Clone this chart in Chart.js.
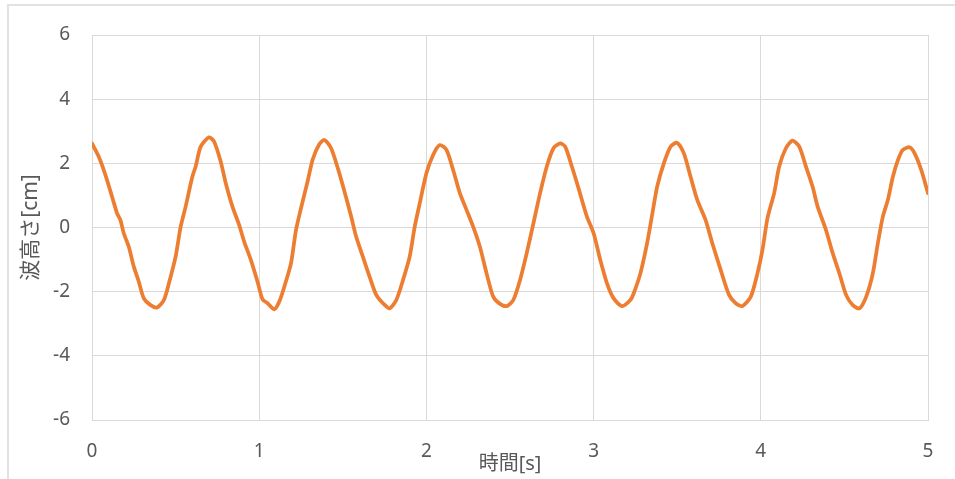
<!DOCTYPE html>
<html>
<head>
<meta charset="utf-8">
<script src="https://cdn.jsdelivr.net/npm/chart.js@4"></script>
<style>
  body { margin: 0; background: #fff; }
  #marco {
    position: absolute; left: 7px; top: 4px; width: 970px; height: 500px;
    border: 2px solid #e2e2e2; background: #fff;
  }
  #grafica { position: absolute; left: 0; top: 0; }
</style>
</head>
<body>
<div id="marco"></div>
<canvas id="grafica" width="955" height="479"></canvas>
<script>
// tiempo [s] y altura de la ola [cm]
const tiempos = [0.00, 0.04, 0.08, 0.12, 0.15, 0.17, 0.19, 0.22, 0.25, 0.28, 0.31, 0.35, 0.39, 0.43, 0.46, 0.50,
  0.53, 0.56, 0.60, 0.62, 0.65, 0.70, 0.73, 0.77, 0.80, 0.84, 0.88, 0.91, 0.95, 0.99, 1.02, 1.05,
  1.09, 1.12, 1.15, 1.19, 1.22, 1.25, 1.29, 1.32, 1.36, 1.39, 1.43, 1.47, 1.51, 1.55, 1.58, 1.62,
  1.66, 1.70, 1.74, 1.78, 1.82, 1.86, 1.90, 1.93, 1.96, 2.00, 2.04, 2.08, 2.12, 2.16, 2.20, 2.24,
  2.28, 2.32, 2.36, 2.40, 2.44, 2.48, 2.52, 2.56, 2.60, 2.64, 2.68, 2.72, 2.76, 2.80, 2.83, 2.87,
  2.91, 2.96, 3.00, 3.04, 3.08, 3.12, 3.17, 3.22, 3.24, 3.28, 3.32, 3.35, 3.38, 3.42, 3.46, 3.50,
  3.54, 3.58, 3.62, 3.67, 3.71, 3.76, 3.81, 3.85, 3.89, 3.94, 3.98, 4.01, 4.04, 4.08, 4.11, 4.15,
  4.19, 4.23, 4.27, 4.31, 4.34, 4.39, 4.43, 4.47, 4.51, 4.55, 4.59, 4.63, 4.67, 4.70, 4.73, 4.76,
  4.79, 4.82, 4.85, 4.89, 4.92, 4.96, 5.00];
const alturas = [2.62, 2.21, 1.64, 0.96, 0.44, 0.23, -0.18, -0.60, -1.22, -1.69, -2.21, -2.42, -2.49, -2.26, -1.74, -0.91,
  0.02, 0.65, 1.58, 1.90, 2.52, 2.81, 2.68, 2.05, 1.38, 0.65, 0.08, -0.44, -1.01, -1.69, -2.24, -2.36,
  -2.55, -2.31, -1.85, -1.12, -0.08, 0.60, 1.45, 2.12, 2.60, 2.73, 2.47, 1.85, 1.12, 0.34, -0.29, -0.91,
  -1.53, -2.10, -2.36, -2.52, -2.26, -1.64, -0.91, 0.02, 0.75, 1.69, 2.26, 2.57, 2.42, 1.79, 1.07, 0.55,
  0.02, -0.60, -1.43, -2.16, -2.38, -2.45, -2.26, -1.64, -0.80, 0.13, 1.07, 1.90, 2.47, 2.62, 2.52, 1.90,
  1.22, 0.34, -0.18, -1.01, -1.74, -2.21, -2.45, -2.26, -2.05, -1.43, -0.49, 0.39, 1.27, 2.00, 2.52, 2.64,
  2.31, 1.58, 0.86, 0.23, -0.49, -1.32, -2.10, -2.36, -2.45, -2.16, -1.43, -0.70, 0.29, 1.07, 1.90, 2.47,
  2.71, 2.52, 1.90, 1.27, 0.65, -0.08, -0.80, -1.43, -2.10, -2.42, -2.52, -2.16, -1.43, -0.49, 0.34, 0.86,
  1.58, 2.10, 2.42, 2.50, 2.31, 1.79, 1.07];

const ticksX = [0, 1, 2, 3, 4, 5];
const ticksY = [-6, -4, -2, 0, 2, 4, 6];

const tituloX = '時間[s]';
const tituloY = '波高さ[cm]';

let puntos = tiempos.map((t, i) => ({ x: t, y: alturas[i] }));

const fuente = '"Noto Sans", "Noto Sans CJK JP", sans-serif';
const gris = '#d9d9d9';
const texto = '#595959';

var ctx = document.getElementById('grafica').getContext('2d');
window.grafica = new Chart(ctx, {
  type: 'line',
  data: {
    datasets: [{
      data: puntos,
      borderColor: '#ed7d31',
      borderWidth: 3.75,
      borderCapStyle: 'round',
      borderJoinStyle: 'round',
      pointRadius: 0,
      tension: 0.25,
      fill: false
    }]
  },
  options: {
    responsive: false,
    animation: false,
    layout: { padding: { top: 35, right: 27, left: 0, bottom: 0 } },
    plugins: { legend: { display: false }, tooltip: { enabled: false } },
    scales: {
      x: {
        type: 'linear',
        min: ticksX[0],
        max: ticksX[ticksX.length - 1],
        afterBuildTicks: (s) => { s.ticks = ticksX.map(v => ({ value: v })); },
        afterFit: (s) => { s.height = 59; },
        grid: { color: gris, lineWidth: 1, drawTicks: false },
        border: { color: gris },
        ticks: { color: texto, padding: 20, maxRotation: 0, font: { family: fuente, size: 19 } },
        title: {
          display: true, text: tituloX, color: texto,
          font: { family: fuente, size: 20 },
          padding: { top: 0, bottom: 3 }
        }
      },
      y: {
        min: ticksY[0],
        max: ticksY[ticksY.length - 1],
        afterBuildTicks: (s) => { s.ticks = ticksY.map(v => ({ value: v })); },
        afterFit: (s) => { s.width = 92; },
        grid: { color: gris, lineWidth: 1, drawTicks: false },
        border: { color: gris },
        ticks: { color: texto, padding: 22, font: { family: fuente, size: 19 } },
        title: {
          display: true, text: tituloY, color: texto,
          font: { family: fuente, size: 21 },
          padding: { top: 18, bottom: 0 }
        }
      }
    }
  }
});
</script>
</body>
</html>
